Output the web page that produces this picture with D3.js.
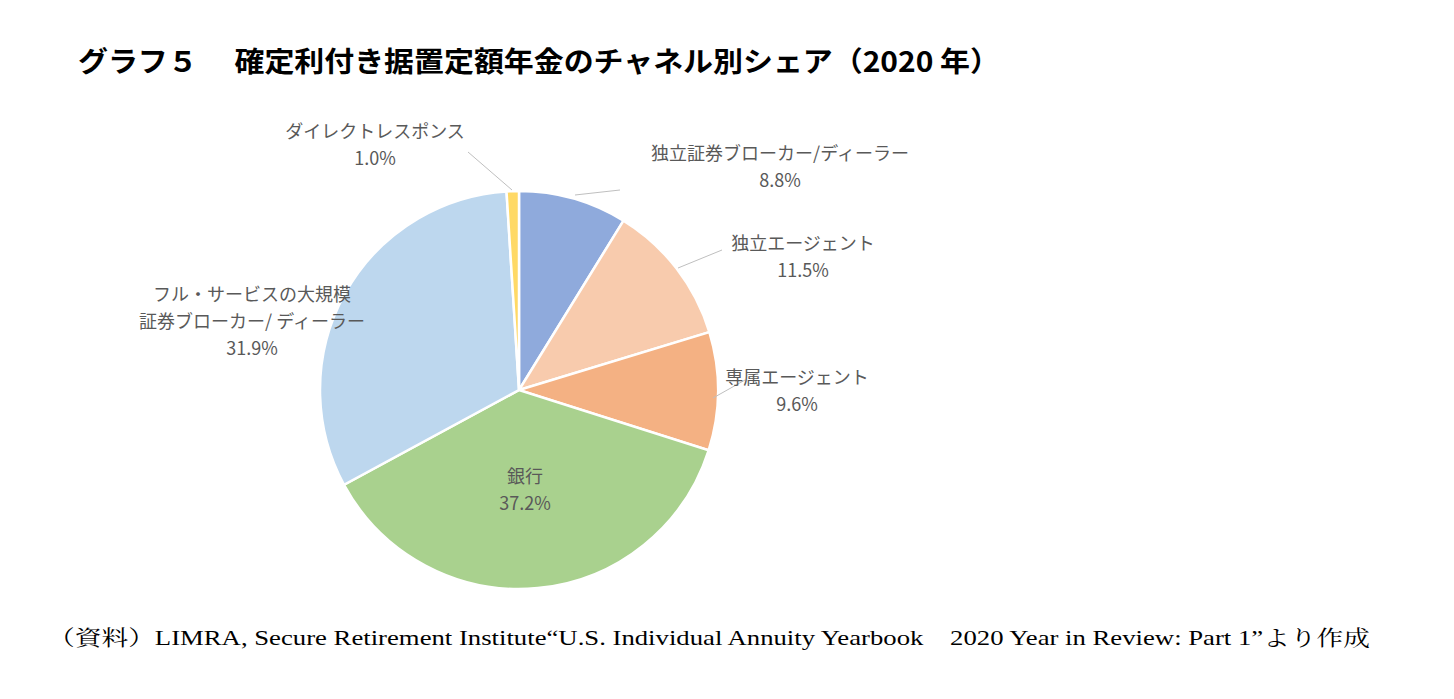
<!DOCTYPE html>
<html lang="ja">
<head>
<meta charset="UTF-8">
<script src="https://d3js.org/d3.v7.min.js"></script>
<style>
  body {margin: 0; background: #fff; font-family: "Noto Sans CJK JP", sans-serif;}
</style>
</head>
<body>
<svg id="chart" width="1454" height="699"></svg>
<script>
const channels = ["独立証券ブローカー/ディーラー", "独立エージェント", "専属エージェント", "銀行", "フル・サービスの大規模\n証券ブローカー/ ディーラー", "ダイレクトレスポンス"];
const shares = [8.8, 11.5, 9.6, 37.2, 31.9, 1.0];
const colors = ["#8faadc", "#f8cbad", "#f4b183", "#a9d18e", "#bdd7ee", "#ffd966"];

// label anchor positions (centre of text block) and leader line ends
const labelPos = [[780, 167], [803, 257], [797, 391], [525, 490], [252, 322], [375, 145]];
const leaders = [[575, 195, 620, 190], [678, 268, 722, 250], [713, 398, 745, 380], null, null, [512, 190, 468, 152]];

const cx = 519, cy = 390, r = 199;
const svg = d3.select("#chart");

svg.append("text").attr("x", 78).attr("y", 72)
  .attr("font-size", 28).attr("font-weight", "bold").attr("fill", "#000")
  .attr("textLength", 922).attr("lengthAdjust", "spacingAndGlyphs")
  .text("グラフ５　 確定利付き据置定額年金のチャネル別シェア（2020 年）");

const pie = d3.pie().sort(null).value(d => d)(shares);
const arc = d3.arc().innerRadius(0).outerRadius(r);

const g = svg.append("g").attr("transform", `translate(${cx},${cy})`);
g.selectAll("path").data(pie).join("path")
  .attr("d", arc).attr("fill", (d, i) => colors[i])
  .attr("stroke", "#fff").attr("stroke-width", 2.5);

leaders.forEach(l => {
  if (!l) return;
  svg.append("line").attr("x1", l[0]).attr("y1", l[1]).attr("x2", l[2]).attr("y2", l[3])
    .attr("stroke", "#bfbfbf").attr("stroke-width", 1);
});

channels.forEach((c, i) => {
  const lines = c.split("\n").concat([shares[i].toFixed(1) + "%"]);
  const [x, y] = labelPos[i];
  const t = svg.append("text").attr("text-anchor", "middle")
    .attr("font-size", 18).attr("fill", "#595959");
  lines.forEach((s, k) => {
    t.append("tspan").attr("x", x).attr("y", y + (k - (lines.length - 1) / 2) * 27 + 6).text(s);
  });
});

svg.append("text").attr("x", 48).attr("y", 645)
  .attr("font-size", 21).attr("fill", "#000")
  .attr("font-family", "'Liberation Serif', 'Noto Serif CJK JP', serif")
  .attr("textLength", 1322).attr("lengthAdjust", "spacingAndGlyphs")
  .text("（資料）LIMRA, Secure Retirement Institute“U.S. Individual Annuity Yearbook　2020 Year in Review: Part 1”より作成");
</script>
</body>
</html>
